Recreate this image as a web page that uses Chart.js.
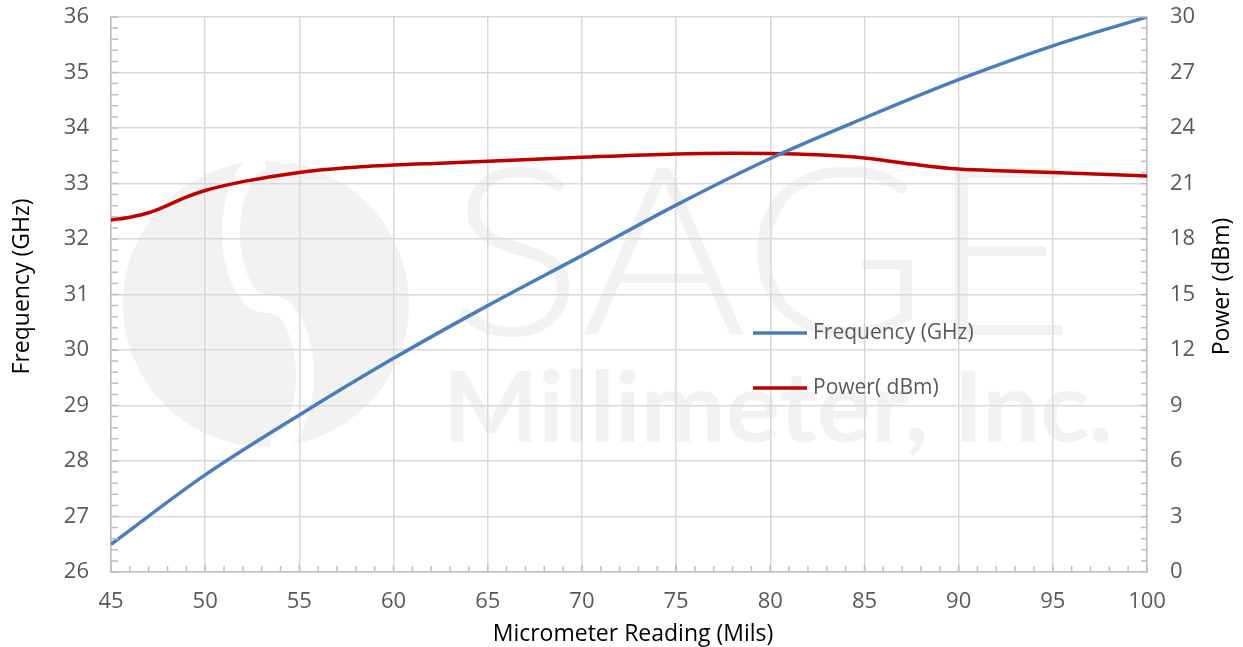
<!DOCTYPE html>
<html>
<head>
<meta charset="utf-8">
<script src="https://cdn.jsdelivr.net/npm/chart.js@4.4.1/dist/chart.umd.min.js"></script>
<style>
  html, body { margin: 0; padding: 0; background: #fff; }
  canvas { display: block; }
</style>
</head>
<body>
<canvas id="sageChart" width="1243" height="647"></canvas>
<script>
// ===== DATA =====
const milsFreq = [45, 50, 55, 60, 65, 70, 75, 80, 85, 90, 95, 100];
const freqGHz  = [26.5, 27.75, 28.83, 29.85, 30.8, 31.7, 32.61, 33.45, 34.18, 34.87, 35.48, 36.0];

const milsPow  = [45, 46, 47, 48, 49, 50, 52, 55, 57.5, 60, 62.5, 65, 70, 75, 78, 80, 82.5, 85, 87.5, 90, 92.5, 95, 100];
const powerDbm = [19.03, 19.18, 19.42, 19.82, 20.26, 20.62, 21.1, 21.6, 21.85, 22.0, 22.1, 22.2, 22.42, 22.6, 22.63, 22.62, 22.55, 22.38, 22.05, 21.78, 21.68, 21.6, 21.4];

const xTicks = { min: 45, max: 100, step: 5 };
const freqTicks = { min: 26, max: 36, step: 1 };
const powTicks = { min: 0, max: 30, step: 3 };

const seriesLabels = ['Frequency (GHz)', 'Power( dBm)'];
const axisTitles = { x: 'Micrometer Reading (Mils)', y: 'Frequency (GHz)', y1: 'Power (dBm)' };

// ===== STYLE =====
const FONT = '"Open Sans", "Noto Sans", sans-serif';
const tickColor = '#595959';
const gridColor = '#d9d9d9';
const axisColor = '#bfbfbf';
const blue = '#4a7ebb';
const red = '#c00000';

function fitText(ctx, text, x, y, width, font) {
  ctx.font = font;
  const w = ctx.measureText(text).width;
  ctx.save();
  ctx.translate(x, y);
  ctx.scale(width / w, 1);
  ctx.fillText(text, 0, 0);
  ctx.restore();
}

// faint company watermark behind the grid
const watermark = {
  id: 'watermark',
  beforeDraw(chart) {
    const ctx = chart.ctx;
    ctx.save();
    ctx.fillStyle = '#f2f2f2';
    const cx = 266, cy = 304, r = 143;
    ctx.beginPath();
    ctx.arc(cx, cy, r, 0, Math.PI * 2);
    ctx.fill();
    ctx.strokeStyle = '#fff';
    ctx.lineWidth = 18;
    ctx.beginPath();
    ctx.ellipse(cx, cy - r / 2, 35, r / 2, 0, -Math.PI / 2, Math.PI / 2, true);
    ctx.ellipse(cx + 4, cy + r / 2, 35, r / 2, 0, -Math.PI / 2, Math.PI / 2, false);
    ctx.stroke();
    ctx.textBaseline = 'alphabetic';
    ctx.textAlign = 'left';
    fitText(ctx, 'SAGE', 448, 335, 627, '300 236px Lato');
    fitText(ctx, 'Millimeter, Inc.', 443, 442, 670, 'bold 97px Lato');
    ctx.restore();
  }
};

// minor tick marks, titles and in-plot legend
const extras = {
  id: 'extras',
  afterDraw(chart) {
    const ctx = chart.ctx;
    const { x, y, y1 } = chart.scales;
    const area = chart.chartArea;
    ctx.save();
    ctx.strokeStyle = axisColor;
    ctx.lineWidth = 1.5;
    ctx.beginPath();
    for (let v = xTicks.min; v <= xTicks.max; v += 1) {
      const px = x.getPixelForValue(v);
      const len = (v % 5 === 0) ? 7 : 6;
      ctx.moveTo(px, area.bottom); ctx.lineTo(px, area.bottom - len);
    }
    for (let i = 0; i <= 50; i++) {
      const py = y.getPixelForValue(freqTicks.min + i * 0.2);
      ctx.moveTo(area.left, py); ctx.lineTo(area.left + 7, py);
    }
    for (let i = 0; i <= 50; i++) {
      const py = y1.getPixelForValue(powTicks.min + i * 0.6);
      ctx.moveTo(area.right, py); ctx.lineTo(area.right - 6, py);
    }
    ctx.stroke();

    // axis titles
    ctx.fillStyle = '#000';
    ctx.font = '23px ' + FONT;
    ctx.textAlign = 'center';
    ctx.textBaseline = 'middle';
    ctx.fillText(axisTitles.x, (area.left + area.right) / 2 + 4, 634);
    const midY = (area.top + area.bottom) / 2;
    ctx.save();
    ctx.translate(22, midY - 8);
    ctx.rotate(-Math.PI / 2);
    ctx.fillText(axisTitles.y, 0, 0);
    ctx.restore();
    ctx.save();
    ctx.translate(1222, midY - 8);
    ctx.rotate(-Math.PI / 2);
    ctx.fillText(axisTitles.y1, 0, 0);
    ctx.restore();

    // legend
    ctx.font = '21px ' + FONT;
    ctx.textAlign = 'left';
    ctx.fillStyle = tickColor;
    const rows = [333, 388];
    chart.data.datasets.forEach((ds, i) => {
      ctx.strokeStyle = ds.borderColor;
      ctx.lineWidth = 3.5;
      ctx.beginPath();
      ctx.moveTo(753, rows[i]); ctx.lineTo(807, rows[i]);
      ctx.stroke();
      ctx.fillText(ds.label, 813, rows[i]);
    });
    ctx.restore();
  }
};

const tickFont = { family: FONT, size: 22 };

function fixY(width) {
  return s => { s.width = width; s.paddingTop = 0; s.paddingBottom = 0; };
}

new Chart(document.getElementById('sageChart'), {
  type: 'line',
  data: {
    datasets: [
      {
        label: seriesLabels[0],
        data: milsFreq.map((m, i) => ({ x: m, y: freqGHz[i] })),
        yAxisID: 'y',
        borderColor: blue,
        borderWidth: 3.5,
        pointRadius: 0,
        cubicInterpolationMode: 'monotone',
        fill: false
      },
      {
        label: seriesLabels[1],
        data: milsPow.map((m, i) => ({ x: m, y: powerDbm[i] })),
        yAxisID: 'y1',
        borderColor: red,
        borderWidth: 3.5,
        pointRadius: 0,
        cubicInterpolationMode: 'monotone',
        fill: false
      }
    ]
  },
  options: {
    responsive: false,
    animation: false,
    layout: { padding: { top: 17, left: 0, right: 0, bottom: 0 } },
    plugins: { legend: { display: false }, tooltip: { enabled: false } },
    scales: {
      x: {
        type: 'linear',
        min: xTicks.min, max: xTicks.max,
        afterFit: s => { s.height = 75; s.paddingLeft = 0; s.paddingRight = 0; },
        grid: { color: gridColor, lineWidth: 1.5, drawTicks: false },
        border: { color: axisColor, width: 1.5 },
        ticks: { stepSize: xTicks.step, color: tickColor, font: tickFont, padding: 17, maxRotation: 0 }
      },
      y: {
        position: 'left',
        min: freqTicks.min, max: freqTicks.max,
        afterFit: fixY(111),
        grid: { color: gridColor, lineWidth: 1.5, drawTicks: false },
        border: { color: axisColor, width: 1.5 },
        ticks: { stepSize: freqTicks.step, color: tickColor, font: tickFont, padding: 22 }
      },
      y1: {
        position: 'right',
        min: powTicks.min, max: powTicks.max,
        afterFit: fixY(96),
        grid: { display: false, drawTicks: false },
        border: { color: axisColor, width: 1.5 },
        ticks: { stepSize: powTicks.step, color: tickColor, font: tickFont, padding: 23 }
      }
    }
  },
  plugins: [watermark, extras]
});
</script>
</body>
</html>
